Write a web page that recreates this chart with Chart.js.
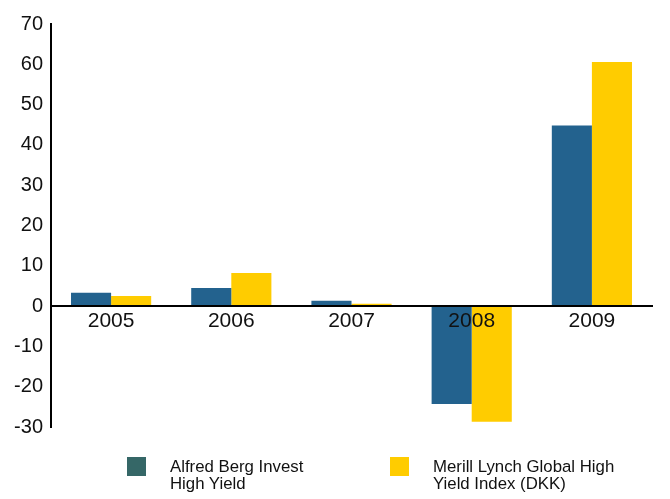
<!DOCTYPE html>
<html>
<head>
<meta charset="utf-8">
<script src="https://cdn.jsdelivr.net/npm/chart.js@4.4.0/dist/chart.umd.min.js"></script>
<style>
  html, body { margin: 0; padding: 0; background: #fff; }
  #wrap { position: relative; width: 670px; height: 499px; }
  .lg-box { position: absolute; width: 19px; height: 19px; top: 457px; }
  .lg-text { position: absolute; top: 458px; font: 16.8px "Liberation Sans", Arial, sans-serif; line-height: 17px; color: #111; }
</style>
</head>
<body>
<div id="wrap">
  <canvas id="c" width="670" height="499"></canvas>
  <div id="legend"></div>
</div>
<script>
var years = ['2005', '2006', '2007', '2008', '2009'];
var fundValues = [3.3, 4.5, 1.3, -24.3, 44.8];
var indexValues = [2.5, 8.2, 0.6, -28.7, 60.6];
var seriesNames = ['Alfred Berg Invest High Yield', 'Merill Lynch Global High Yield Index (DKK)'];
var yTicks = [-30, -20, -10, 0, 10, 20, 30, 40, 50, 60, 70];

var fontFamily = '"Liberation Sans", Arial, sans-serif';
var xFont = { family: fontFamily, size: 21 };
var yFont = { family: fontFamily, size: 20 };

// x axis (zero line + year labels) sits on top of the bars in the original,
// so the scale's own labels are transparent and repainted here at its positions
var axisOnTop = {
    id: 'axisOnTop',
    afterDatasetsDraw: function (chart) {
        var x = chart.scales.x;
        var ctx = chart.ctx;
        x.drawBorder();
        ctx.save();
        ctx.fillStyle = '#111';
        ctx.font = xFont.size + 'px ' + fontFamily;
        x.getLabelItems(chart.chartArea).forEach(function (it) {
            ctx.textAlign = it.options.textAlign;
            ctx.textBaseline = it.options.textBaseline;
            ctx.fillText(it.label, it.options.translation[0], it.options.translation[1] + it.textOffset);
        });
        ctx.restore();
    }
};

var chart = new Chart(document.getElementById('c'), {
    type: 'bar',
    data: {
        labels: years,
        datasets: [
            { label: seriesNames[0], data: fundValues, backgroundColor: '#23628e', legendColor: '#356767' },
            { label: seriesNames[1], data: indexValues, backgroundColor: '#ffcc00', legendColor: '#ffcc00' }
        ]
    },
    plugins: [axisOnTop],
    options: {
        responsive: false,
        animation: false,
        layout: { padding: { top: 24, right: 18, bottom: 72, left: 0 } },
        datasets: { bar: { categoryPercentage: 0.667, barPercentage: 1 } },
        plugins: { legend: { display: false }, tooltip: { enabled: false } },
        scales: {
            x: {
                position: { y: 0 },
                grid: { display: false, drawTicks: false },
                border: { color: '#000', width: 2 },
                ticks: { color: 'rgba(0,0,0,0)', font: xFont, padding: 3 }
            },
            y: {
                min: yTicks[0],
                max: yTicks[yTicks.length - 1],
                afterFit: function (s) { s.width = 51; },
                afterBuildTicks: function (s) { s.ticks = yTicks.map(function (v) { return { value: v }; }); },
                grid: { display: false, drawTicks: false },
                border: { color: '#000', width: 2 },
                ticks: { color: '#111', font: yFont, padding: 8 }
            }
        }
    }
});

// legend below the plot, text wraps like the original
var legend = document.getElementById('legend');
var boxLeft = [127, 390];
var textLeft = [170, 433];
var textWidth = [150, 205];
chart.data.datasets.forEach(function (ds, i) {
    var b = document.createElement('div');
    b.className = 'lg-box';
    b.style.left = boxLeft[i] + 'px';
    b.style.background = ds.legendColor;
    legend.appendChild(b);
    var t = document.createElement('div');
    t.className = 'lg-text';
    t.style.left = textLeft[i] + 'px';
    t.style.width = textWidth[i] + 'px';
    t.textContent = ds.label;
    legend.appendChild(t);
});
</script>
</body>
</html>
